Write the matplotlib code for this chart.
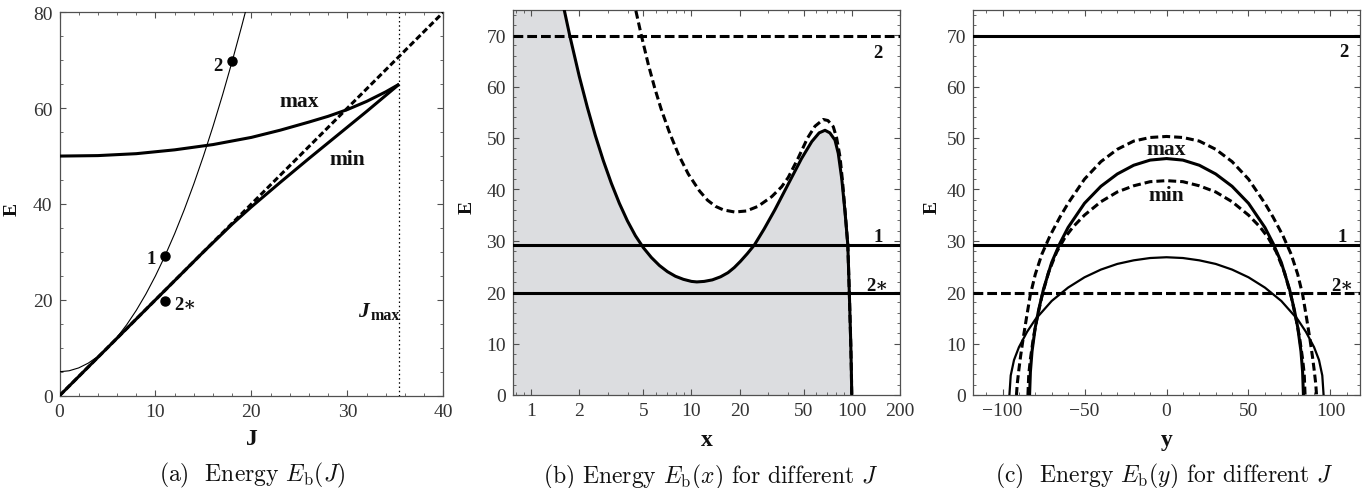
import numpy as np
import matplotlib
matplotlib.use("Agg")
import matplotlib.pyplot as plt
from matplotlib.ticker import MultipleLocator, FixedLocator, FixedFormatter, NullFormatter
import matplotlib.transforms as mtransforms

plt.rcParams['font.family'] = ['Liberation Serif', 'DejaVu Serif']
plt.rcParams['mathtext.fontset'] = 'cm'

# ---------------- data: panel (a) ----------------
J_thin = [0, 1, 2, 3, 4, 5, 6, 7, 8, 9, 10, 11, 12, 13, 14, 15, 16, 17, 18, 19, 19.6]
E_thin = [5.0, 5.2, 5.8, 6.8, 8.2, 10.0, 12.2, 14.8, 17.8, 21.2, 25.0, 29.2, 33.8, 38.8,
          44.2, 50.0, 56.2, 62.8, 69.8, 77.2, 81.8]
J_maxc = [0, 4, 8, 12, 16, 20, 23, 26, 28, 30, 32, 34, 35.4]
E_maxc = [50.0, 50.1, 50.5, 51.3, 52.4, 53.9, 55.4, 57.1, 58.3, 59.7, 61.4, 63.4, 65.0]
J_minc = [0, 5, 10, 15, 18, 20, 23, 26, 29, 32, 35.4]
E_minc = [0.0, 10.0, 20.0, 30.0, 35.8, 39.4, 44.5, 49.5, 54.4, 59.3, 65.0]
J_asym = [0, 40]
E_asym = [0, 80]
J_limit = 35.4
pt_J = [11, 18, 11]
pt_E = [29.2, 69.8, 19.8]

# ---------------- data: panel (b) ----------------
x_sol = [1.585, 1.738, 1.995, 2.239, 2.512, 2.818, 3.162, 3.548, 3.981, 4.467, 5.012, 5.623,
         6.310, 7.079, 7.943, 8.913, 10.0, 10.8, 12.0, 13.5, 15.2, 16.9, 18.5, 20.2, 22.3, 24.7,
         28.4, 33.1, 40.1, 48.6, 56.3, 62.6, 68.1, 73.0, 78.6, 82.4, 86.6, 90.8, 94.5, 96.6,
         98.6, 99.4, 100.0]
E_sol = [75.8, 70.0, 62.0, 56.0, 50.5, 45.6, 41.2, 37.3, 33.9, 31.0, 28.65, 26.75,
         25.2, 24.0, 23.1, 22.5, 22.1, 22.0, 22.1, 22.4, 23.0, 23.8, 24.8, 26.0, 27.5, 29.2,
         32.3, 36.0, 41.0, 46.0, 49.3, 51.0, 51.5, 51.0, 49.6, 47.0, 42.1, 35.6, 29.2, 19.8,
         10.0, 5.0, 0.0]
x_dash = [4.335, 4.864, 5.370, 5.888, 6.457, 7.244, 8.318, 9.550, 11.22, 12.59, 14.13, 15.85,
          18.62, 22.0, 26.0, 31.7, 36.5, 40.1, 46.0, 53.0, 59.0, 66.4, 71.0, 76.7, 80.5, 84.5,
          87.5, 90.9, 94.5, 96.6, 98.6, 99.4, 100.0]
E_dash = [77.0, 70.0, 64.4, 59.8, 55.7, 51.3, 46.7, 43.0, 39.7, 37.9, 36.7, 36.0,
          35.6, 35.8, 36.7, 38.6, 40.5, 42.3, 45.9, 50.0, 52.3, 53.6, 53.4, 52.2, 50.0, 46.3,
          41.7, 35.7, 29.2, 19.8, 10.0, 5.0, 0.0]

# energy levels
E_lev2 = 69.8
E_lev1 = 29.2
E_lev2s = 19.8

# ---------------- data: panel (c) ----------------
y_thin = [-95.8, -95, -93, -90, -85, -80, -70, -60, -50, -40, -30, -20, -10, 0,
          10, 20, 30, 40, 50, 60, 70, 80, 85, 90, 93, 95, 95.8]
Ey_thin = [0.0, 3.8, 6.8, 9.3, 12.3, 14.7, 18.3, 20.9, 22.9, 24.4, 25.5, 26.2, 26.65, 26.8,
           26.65, 26.2, 25.5, 24.4, 22.9, 20.9, 18.3, 14.7, 12.3, 9.3, 6.8, 3.8, 0.0]
y_smax = [-83.5, -83, -82, -80, -78, -75, -70, -65, -60, -50, -40, -30, -20, -10, 0,
          10, 20, 30, 40, 50, 60, 65, 70, 75, 78, 80, 82, 83, 83.5]
Ey_smax = [0.0, 4.5, 8.5, 13.2, 16.5, 20.6, 25.8, 29.5, 32.6, 37.3, 40.6, 43.0, 44.7, 45.7, 46.0,
           45.7, 44.7, 43.0, 40.6, 37.3, 32.6, 29.5, 25.8, 20.6, 16.5, 13.2, 8.5, 4.5, 0.0]
y_dmin = [-84.5, -84, -83, -81, -79, -76, -72, -67, -62, -57, -50, -40, -30, -20, -10, 0,
          10, 20, 30, 40, 50, 57, 62, 67, 72, 76, 79, 81, 83, 84, 84.5]
Ey_dmin = [0.0, 4.0, 7.0, 11.5, 14.8, 19.2, 23.8, 27.8, 30.6, 32.7, 35.0, 37.6, 39.5, 40.7, 41.5,
           41.7, 41.5, 40.7, 39.5, 37.6, 35.0, 32.7, 30.6, 27.8, 23.8, 19.2, 14.8, 11.5, 7.0,
           4.0, 0.0]
y_dout = [-91.5, -91, -90, -89, -87.5, -85.5, -83.1, -80, -76, -71, -65, -60, -50, -40, -30,
          -20, -10, 0, 10, 20, 30, 40, 50, 60, 65, 71, 76, 80, 83.1, 85.5, 87.5, 89, 90, 91, 91.5]
Ey_dout = [0.0, 2.2, 5.0, 7.5, 10.8, 14.8, 19.4, 23.5, 27.4, 31.0, 34.6, 37.3, 42.0, 45.4, 47.8,
           49.4, 50.1, 50.3, 50.1, 49.4, 47.8, 45.4, 42.0, 37.3, 34.6, 31.0, 27.4, 23.5, 19.4,
           14.8, 10.8, 7.5, 5.0, 2.2, 0.0]

# ---------------- figure ----------------
W, H = 1372, 489
fig = plt.figure(figsize=(W / 100, H / 100), dpi=100)


def add_ax(l, t, r, b):
    return fig.add_axes([l / W, 1 - b / H, (r - l) / W, (b - t) / H])


axA = add_ax(59.5, 13.3, 443.3, 396.7)
axB = add_ax(513, 10.5, 900, 396)
axC = add_ax(973, 10.5, 1360, 396)

FRAME = '#505050'


def style(ax):
    for s in ax.spines.values():
        s.set_color(FRAME)
        s.set_linewidth(0.9)
    ax.tick_params(which='both', direction='in', top=True, right=True,
                   color=FRAME, labelcolor='#333333', labelsize=14, pad=5)
    ax.tick_params(which='major', length=4.5, width=0.8)
    ax.tick_params(which='minor', length=2.5, width=0.6)


LW = 2.2
DASH_A = (0, (2.0, 1.0))
DASH_C = (0, (2.6, 1.3))
DASH_H = (0, (3.2, 1.3))
bold = dict(fontweight='bold', color='#111111')
LAB = 13.5

# ---------- (a) ----------
ax = axA
ax.plot(J_thin, E_thin, color='k', lw=0.8, zorder=3)
ax.plot(J_asym, E_asym, color='k', lw=LW, ls=DASH_A, zorder=3)
ax.plot(J_minc, E_minc, color='k', lw=LW, zorder=4, solid_capstyle='butt')
ax.plot(J_maxc, E_maxc, color='k', lw=LW, zorder=4, solid_capstyle='butt')
ax.axvline(J_limit, color='k', lw=0.9, ls=(0, (1.2, 2.2)), zorder=2)
ax.plot(pt_J, pt_E, 'o', color='k', ms=6.5, zorder=5)
ax.set_xlim(0, 40)
ax.set_ylim(0, 80)
ax.xaxis.set_major_locator(MultipleLocator(10))
ax.xaxis.set_minor_locator(MultipleLocator(2))
ax.yaxis.set_major_locator(MultipleLocator(20))
ax.yaxis.set_minor_locator(MultipleLocator(5))
style(ax)
ax.text(10.0, 27.6, '1', ha='right', va='baseline', fontsize=LAB, **bold)
ax.text(17.0, 68.0, '2', ha='right', va='baseline', fontsize=LAB, **bold)
ax.text(12.0, 18.0, '2\u2217', ha='left', va='baseline', fontsize=LAB, **bold)
ax.text(22.9, 60.5, 'max', ha='left', va='baseline', fontsize=15.5, **bold)
ax.text(28.1, 48.4, 'min', ha='left', va='baseline', fontsize=15.5, **bold)
ax.text(31.1, 16.7, 'J', ha='left', va='baseline', fontsize=15.5, fontweight='bold',
        fontstyle='italic', color='#111111')
ax.text(32.4, 15.9, 'max', ha='left', va='baseline', fontsize=11.5, **bold)

# ---------- (b) ----------
ax = axB
ax.set_xscale('log')
xl = (0.77, 200)
ax.fill_between([xl[0]] + x_sol, 0, [E_sol[0]] + E_sol, color='#dcdde0', lw=0, zorder=1)
ax.plot(x_dash, E_dash, color='k', lw=LW, ls=DASH_C, zorder=3)
ax.plot(x_sol, E_sol, color='k', lw=LW, zorder=4)
ax.axhline(E_lev2, color='k', lw=LW, ls=DASH_H, zorder=3)
ax.axhline(E_lev1, color='k', lw=LW, zorder=3)
ax.axhline(E_lev2s, color='k', lw=LW, zorder=3)
ax.set_xlim(*xl)
ax.set_ylim(0, 75)
ax.xaxis.set_major_locator(FixedLocator([1, 2, 5, 10, 20, 50, 100, 200]))
ax.xaxis.set_major_formatter(FixedFormatter(['1', '2', '5', '10', '20', '50', '100', '200']))
ax.xaxis.set_minor_locator(FixedLocator([0.8, 0.9, 3, 4, 6, 7, 8, 9, 30, 40, 60, 70, 80, 90]))
ax.xaxis.set_minor_formatter(NullFormatter())
ax.yaxis.set_major_locator(MultipleLocator(10))
ax.yaxis.set_minor_locator(MultipleLocator(2))
style(ax)
tb = mtransforms.blended_transform_factory(ax.transAxes, ax.transData)
ax.text(0.956, 65.7, '2', transform=tb, ha='right', va='baseline', fontsize=LAB, **bold)
ax.text(0.956, 30.0, '1', transform=tb, ha='right', va='baseline', fontsize=LAB, **bold)
ax.text(0.969, 20.4, '2\u2217', transform=tb, ha='right', va='baseline', fontsize=LAB, **bold)

# ---------- (c) ----------
ax = axC
ax.axhline(E_lev2, color='k', lw=LW, zorder=3)
ax.axhline(E_lev1, color='k', lw=LW, zorder=3)
ax.axhline(E_lev2s, color='k', lw=LW, ls=DASH_H, zorder=3)
ax.plot(y_thin, Ey_thin, color='k', lw=1.6, zorder=4)
ax.plot(y_dout, Ey_dout, color='k', lw=LW, ls=DASH_C, zorder=4)
ax.plot(y_dmin, Ey_dmin, color='k', lw=LW, ls=DASH_C, zorder=4)
ax.plot(y_smax, Ey_smax, color='k', lw=LW, zorder=5)
ax.set_xlim(-118, 118)
ax.set_ylim(0, 75)
ax.xaxis.set_major_locator(MultipleLocator(50))
ax.xaxis.set_minor_locator(MultipleLocator(10))
ax.yaxis.set_major_locator(MultipleLocator(10))
ax.yaxis.set_minor_locator(MultipleLocator(2))
style(ax)
tc = mtransforms.blended_transform_factory(ax.transAxes, ax.transData)
ax.text(0.969, 65.9, '2', transform=tc, ha='right', va='baseline', fontsize=LAB, **bold)
ax.text(0.965, 30.0, '1', transform=tc, ha='right', va='baseline', fontsize=LAB, **bold)
ax.text(0.982, 20.4, '2\u2217', transform=tc, ha='right', va='baseline', fontsize=LAB, **bold)
ax.text(0, 46.8, 'max', ha='center', va='baseline', fontsize=15.5, **bold)
ax.text(0, 37.9, 'min', ha='center', va='baseline', fontsize=15.5, **bold)

# ---------- axis labels and captions ----------
def ftext(x, y, s, **kw):
    fig.text(x / W, 1 - y / H, s, **kw)

ftext(251.5, 440, 'J', ha='center', va='center', fontsize=17, **bold)
ftext(706.5, 441, 'x', ha='center', va='center', fontsize=17, **bold)
ftext(1166.5, 441, 'y', ha='center', va='center', fontsize=17, **bold)
ftext(12.5, 209, 'E', ha='center', va='center', rotation=90, fontsize=14, **bold)
ftext(467, 207, 'E', ha='center', va='center', rotation=90, fontsize=14, **bold)
ftext(932, 207, 'E', ha='center', va='center', rotation=90, fontsize=14, **bold)

cap = dict(ha='center', va='center', fontsize=17, family='cmr10', color='#111111')
ftext(252, 475, r'(a)  Energy $E_\mathrm{b}(J)$', **cap)
ftext(711, 477, r'(b) Energy $E_\mathrm{b}(x)$ for different $J$', **cap)
ftext(1164, 476, r'(c)  Energy $E_\mathrm{b}(y)$ for different $J$', **cap)

fig.savefig('out.png', dpi=100)
